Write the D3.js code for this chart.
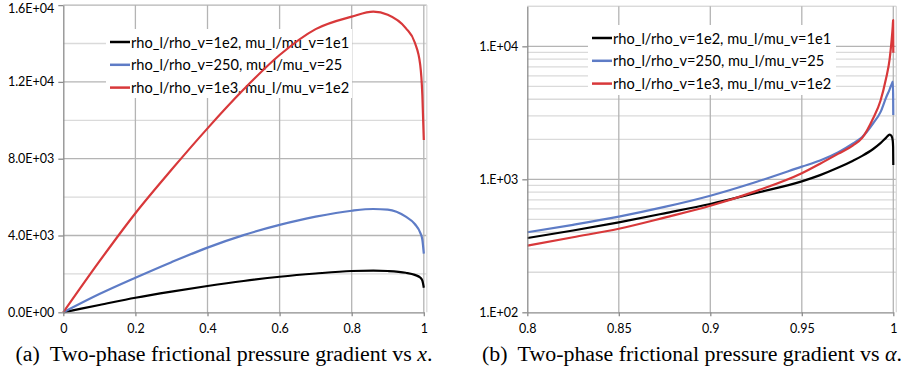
<!DOCTYPE html>
<html>
<head>
<meta charset="utf-8">
<script src="https://cdn.jsdelivr.net/npm/d3@7"></script>
<style>
  body { margin: 0; background: #fff; }
  svg { display: block; }
  .tick text { font-family: Lato, "Open Sans", sans-serif; font-size: 12.5px; fill: #000; }
  .legend text { font-family: Lato, "Open Sans", sans-serif; font-size: 14.6px; fill: #000; }
  .caption { font-family: "Liberation Serif", "DejaVu Serif", serif; font-size: 21.9px; fill: #000; }
</style>
</head>
<body>
<script>
// series names (same three fluid pairs in both panels)
var seriesNames = [
  "rho_l/rho_v=1e2, mu_l/mu_v=1e1",
  "rho_l/rho_v=250, mu_l/mu_v=25",
  "rho_l/rho_v=1e3, mu_l/mu_v=1e2"
];
var seriesColors = ["#000000", "#5e7cc6", "#d8383a"];

// panel (a): pressure gradient vs quality x
var quality = [0, 0.1, 0.2, 0.3, 0.4, 0.5, 0.6, 0.7, 0.8, 0.86, 0.9, 0.95, 0.975, 0.99, 0.996, 1];
var gradA_1e2 = [0, 380, 760, 1080, 1370, 1630, 1850, 2020, 2150, 2170, 2150, 2060, 1950, 1810, 1650, 1280];
var gradA_250 = [0, 950, 1800, 2610, 3370, 4020, 4550, 4980, 5290, 5380, 5350, 4980, 4600, 4150, 3780, 3060];
var gradA_1e3 = [0, 2650, 5160, 7420, 9580, 11600, 13400, 14750, 15400, 15660, 15500, 14800, 14050, 12900, 11300, 8970];

// panel (b): pressure gradient vs void fraction alpha
var voidFrac = [0.8, 0.825, 0.85, 0.875, 0.9, 0.925, 0.95, 0.96, 0.97, 0.978, 0.983, 0.989, 0.993, 0.996, 0.998, 0.999, 0.9997, 0.9999, 1];
var gradB_1e2 = [362, 412, 475, 555, 652, 790, 965, 1075, 1225, 1380, 1500, 1690, 1870, 2050, 2170, 2120, 1950, 1750, 1280];
var gradB_250 = [400, 455, 524, 620, 753, 955, 1245, 1385, 1600, 1860, 2080, 2640, 3200, 4100, 4750, 5150, 5420, 4400, 3040];
var gradB_1e3 = [317, 367, 425, 515, 632, 815, 1110, 1310, 1560, 1800, 2050, 2880, 3900, 5700, 8000, 10800, 14200, 15780, 8960];

var ticksA_x = [0, 0.2, 0.4, 0.6, 0.8, 1];
var ticksA_y = [0, 4000, 8000, 12000, 16000];
var gridA_y = [2000, 4000, 6000, 8000, 10000, 12000, 14000, 16000];
var ticksB_x = [0.8, 0.85, 0.9, 0.95, 1];
var ticksB_y = [100, 1000, 10000];

var W = 901, H = 375;
var svg = d3.select("body").append("svg").attr("width", W).attr("height", H);

var gridMajor = "#b4b4b4", gridMinor = "#dadada", axisCol = "#8c8c8c";

function sciA(v) {
  if (v === 0) return "0.0E+00";
  var e = Math.floor(Math.log10(v));
  return (v / Math.pow(10, e)).toFixed(1) + "E+" + String(e).padStart(2, "0");
}
function sciB(v) {
  var e = Math.round(Math.log10(v));
  return "1.E+" + String(e).padStart(2, "0");
}

function drawPanel(cfg) {
  var g = svg.append("g");
  var x = cfg.x, y = cfg.y;
  var x0 = x.range()[0], x1 = x.range()[1];
  var yb = y.range()[0], yt = y.range()[1];

  // horizontal grid
  g.selectAll(".hgrid").data(cfg.hgrid).enter().append("line")
    .attr("x1", x0).attr("x2", x1 + 3)
    .attr("y1", function(d){ return y(d); }).attr("y2", function(d){ return y(d); })
    .attr("stroke", function(d){ return cfg.isMajor(d) ? gridMajor : gridMinor; })
    .attr("stroke-width", 1.3);

  // vertical grid
  g.selectAll(".vgrid").data(cfg.xticks.slice(1)).enter().append("line")
    .attr("x1", function(d){ return x(d); }).attr("x2", function(d){ return x(d); })
    .attr("y1", yt).attr("y2", yb)
    .attr("stroke", gridMajor).attr("stroke-width", 1.3);

  // right plot-area border
  g.append("line").attr("x1", x1 + 3).attr("x2", x1 + 3).attr("y1", yt).attr("y2", yb)
    .attr("stroke", gridMinor).attr("stroke-width", 1.3);

  // legend (sits under the curves, over the grid)
  var lg = g.append("g").attr("class", "legend");
  lg.append("rect")
    .attr("x", cfg.legend.x).attr("y", cfg.legend.y)
    .attr("width", cfg.legend.w).attr("height", cfg.legend.h)
    .attr("fill", "#fff");
  seriesNames.forEach(function(name, i) {
    var ly = cfg.legend.y + 13 + i * 22.8;
    lg.append("line")
      .attr("x1", cfg.legend.x + 4).attr("x2", cfg.legend.x + 24)
      .attr("y1", ly).attr("y2", ly)
      .attr("stroke", seriesColors[i]).attr("stroke-width", 2.5);
    lg.append("text")
      .attr("x", cfg.legend.x + 25).attr("y", ly + 5.5)
      .text(name);
  });

  // curves
  var line = d3.line()
    .x(function(d){ return x(d[0]); })
    .y(function(d){ return y(d[1]); })
    .curve(d3.curveMonotoneX);
  cfg.series.forEach(function(vals, i) {
    g.append("path")
      .datum(cfg.xs.map(function(v, j){ return [v, vals[j]]; }))
      .attr("d", line)
      .attr("fill", "none")
      .attr("stroke", seriesColors[i])
      .attr("stroke-width", 2.2)
      .attr("stroke-linejoin", "round");
  });

  // axes
  var ax = g.append("g").attr("transform", "translate(0," + yb + ")")
    .call(d3.axisBottom(x).tickValues(cfg.xticks).tickSize(4).tickSizeOuter(0).tickPadding(8)
      .tickFormat(cfg.xfmt));
  var ay = g.append("g").attr("transform", "translate(" + x0 + ",0)")
    .call(d3.axisLeft(y).tickValues(cfg.yticks).tickSize(5).tickSizeOuter(0).tickPadding(4)
      .tickFormat(cfg.yfmt));
  [ax, ay].forEach(function(a) {
    a.select(".domain").attr("stroke", axisCol).attr("stroke-width", 1.3);
    a.selectAll(".tick line").attr("stroke", axisCol).attr("stroke-width", 1.3);
  });
  // keep the topmost label inside the picture
  ay.selectAll(".tick text").filter(function(d){ return y(d) < 10; }).attr("dy", "0.6em");

  // caption
  var cap = svg.append("text").attr("class", "caption")
    .attr("x", cfg.capX).attr("y", 361).attr("text-anchor", "middle");
  cap.append("tspan").text(cfg.capTag);
  cap.append("tspan").attr("dx", 10).text("Two-phase frictional pressure gradient vs ");
  cap.append("tspan").attr("font-style", "italic").text(cfg.capVar);
  cap.append("tspan").text(".");
}

drawPanel({
  x: d3.scaleLinear().domain([0, 1]).range([63.3, 423.8]),
  y: d3.scaleLinear().domain([0, 16000]).range([312.3, 5.1]),
  xs: quality,
  series: [gradA_1e2, gradA_250, gradA_1e3],
  xticks: ticksA_x,
  yticks: ticksA_y,
  hgrid: gridA_y,
  isMajor: function(d){ return d % 4000 === 0; },
  xfmt: function(d){ return d3.format("")(d); },
  yfmt: sciA,
  legend: { x: 106, y: 29, w: 246, h: 69 },
  capX: 224, capTag: "(a)", capVar: "x"
});

var yLog = d3.scaleLog().domain([100, 20000]).range([312.3, 6.3]);
drawPanel({
  x: d3.scaleLinear().domain([0.8, 1]).range([527.3, 893.3]),
  y: yLog,
  xs: voidFrac,
  series: [gradB_1e2, gradB_250, gradB_1e3],
  xticks: ticksB_x,
  yticks: ticksB_y,
  hgrid: yLog.ticks().filter(function(d){ return d > 100; }).concat([20000]),
  isMajor: function(d){ return Math.abs(Math.log10(d) - Math.round(Math.log10(d))) < 1e-9; },
  xfmt: function(d){ return d3.format("")(d); },
  yfmt: sciB,
  legend: { x: 588, y: 25, w: 248, h: 70 },
  capX: 692, capTag: "(b)", capVar: "\u03b1"
});
</script>
</body>
</html>
